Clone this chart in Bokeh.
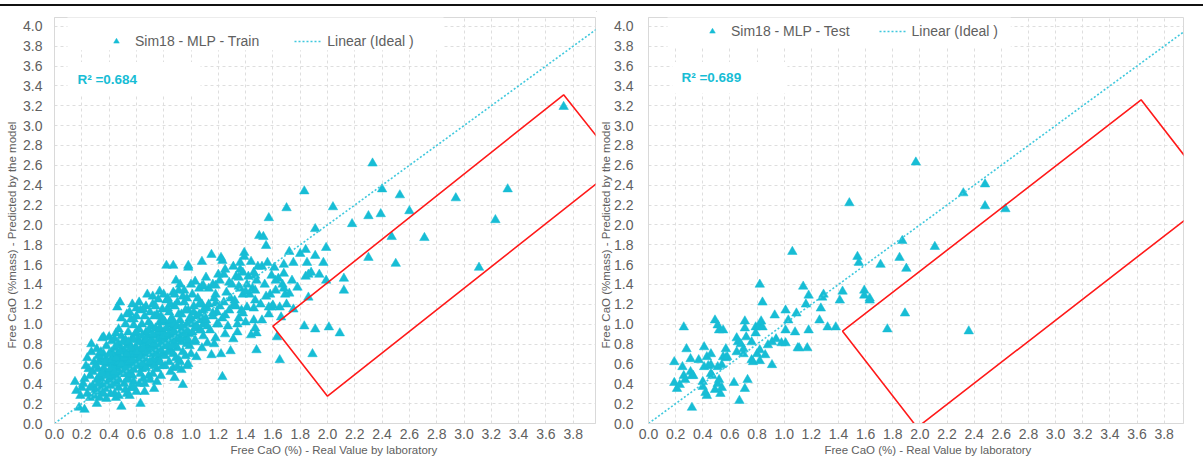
from bokeh.plotting import figure
from bokeh.models import (Range1d, FixedTicker, PrintfTickFormatter, Legend,
                          LegendItem, Label, BoxAnnotation, Title, Div)
from bokeh.layouts import row, column
from bokeh.embed import file_html
from bokeh.resources import INLINE

# ---------------- data ----------------
train_pts = [
    (0.15, 0.42), (0.16, 0.33), (0.18, 0.16), (0.22, 0.14), (0.20, 0.36), (0.19, 0.28),
    (0.24, 0.66), (0.27, 0.80), (0.25, 0.55), (0.22, 0.45), (0.26, 0.48), (0.28, 0.38),
    (0.24, 0.30), (0.29, 0.62), (0.27, 0.72), (0.23, 0.58), (0.21, 0.40), (0.28, 0.52),
    (0.30, 0.34), (0.26, 0.26),
    (0.31, 0.75), (0.31, 0.20), (0.35, 0.86), (0.33, 0.62), (0.34, 0.45), (0.32, 0.55),
    (0.36, 0.70), (0.38, 0.25), (0.37, 0.50), (0.39, 0.60), (0.35, 0.38), (0.33, 0.32),
    (0.38, 0.78), (0.36, 0.87), (0.34, 0.66), (0.31, 0.44), (0.39, 0.42), (0.37, 0.35),
    (0.32, 0.68), (0.40, 0.87), (0.40, 0.52), (0.36, 0.56), (0.33, 0.48), (0.38, 0.65),
    (0.45, 0.91), (0.48, 1.22), (0.46, 1.17), (0.49, 0.17), (0.42, 0.72), (0.44, 0.60),
    (0.43, 0.48), (0.47, 0.80), (0.41, 0.38), (0.46, 0.55), (0.48, 0.66), (0.44, 0.30),
    (0.49, 1.06), (0.47, 0.95), (0.42, 0.83), (0.45, 0.42), (0.43, 0.58), (0.46, 0.70),
    (0.48, 0.50), (0.41, 0.62), (0.49, 0.88), (0.44, 0.76), (0.47, 0.36), (0.45, 0.26),
    (0.42, 0.52), (0.48, 0.58), (0.43, 0.68), (0.46, 0.46), (0.44, 0.85), (0.49, 0.74),
    (0.41, 0.45), (0.47, 0.62),
    (0.58, 0.99), (0.52, 0.84), (0.55, 0.70), (0.53, 0.58), (0.57, 0.48), (0.51, 0.40),
    (0.56, 0.62), (0.54, 0.92), (0.59, 0.76), (0.52, 0.66), (0.55, 0.52), (0.58, 0.42),
    (0.53, 0.30), (0.57, 0.86), (0.51, 0.73), (0.56, 1.05), (0.54, 0.45), (0.59, 0.60),
    (0.52, 0.50), (0.55, 0.80), (0.58, 0.68), (0.53, 0.78), (0.57, 0.56), (0.51, 0.60),
    (0.56, 0.36), (0.54, 0.64), (0.59, 0.90), (0.52, 1.00), (0.55, 0.58), (0.57, 0.72),
    (0.63, 0.20), (0.63, 1.14), (0.68, 1.30), (0.66, 1.08), (0.62, 0.95), (0.65, 0.82),
    (0.67, 0.70), (0.61, 0.62), (0.64, 0.55), (0.69, 0.48), (0.62, 0.40), (0.66, 0.32),
    (0.68, 0.88), (0.63, 0.75), (0.65, 0.65), (0.69, 0.60), (0.61, 0.85), (0.64, 1.00),
    (0.67, 0.92), (0.62, 0.70), (0.66, 0.58), (0.68, 0.78), (0.63, 0.50), (0.65, 0.45),
    (0.60, 0.76), (0.67, 1.18), (0.69, 1.02), (0.64, 0.68), (0.66, 0.74),
    (0.77, 1.33), (0.72, 1.20), (0.75, 1.10), (0.71, 0.98), (0.74, 0.88), (0.78, 0.80),
    (0.73, 0.72), (0.76, 0.66), (0.79, 0.58), (0.72, 0.50), (0.75, 0.42), (0.78, 0.94),
    (0.71, 0.84), (0.74, 0.62), (0.77, 1.02), (0.73, 1.08), (0.76, 0.76), (0.79, 0.70),
    (0.72, 0.64), (0.75, 0.55), (0.78, 0.48), (0.70, 0.70), (0.77, 0.86), (0.74, 0.78),
    (0.79, 1.15), (0.73, 0.35), (0.76, 0.92), (0.71, 0.60),
    (0.82, 1.59), (0.87, 1.59), (0.88, 0.46), (0.89, 1.44), (0.82, 1.24), (0.87, 1.32),
    (0.84, 1.12), (0.81, 1.02), (0.86, 0.96), (0.83, 0.88), (0.88, 0.80), (0.85, 0.74),
    (0.81, 0.68), (0.84, 0.62), (0.87, 0.56), (0.89, 0.90), (0.82, 0.82), (0.86, 1.06),
    (0.88, 1.18), (0.83, 0.72), (0.85, 0.52), (0.80, 0.92), (0.87, 0.70), (0.84, 1.00),
    (0.89, 0.66), (0.81, 0.58), (0.86, 0.84), (0.83, 1.16),
    (0.94, 0.39), (0.98, 1.59), (0.91, 1.34), (0.95, 1.22), (0.93, 1.10), (0.97, 1.00),
    (0.92, 0.92), (0.96, 0.86), (0.99, 0.78), (0.94, 0.72), (0.91, 0.64), (0.97, 0.58),
    (0.93, 0.82), (0.98, 1.14), (0.95, 0.96), (0.92, 1.04), (0.99, 0.90), (0.96, 0.68),
    (0.90, 0.76), (0.94, 1.28), (0.97, 0.80), (0.93, 0.54), (0.99, 1.06),
    (1.03, 1.43), (1.04, 0.67), (1.08, 1.63), (1.01, 1.30), (1.06, 1.20), (1.02, 1.12),
    (1.07, 1.04), (1.05, 0.96), (1.09, 0.88), (1.03, 0.82), (1.08, 0.76), (1.01, 0.92),
    (1.06, 1.36), (1.04, 1.08), (1.09, 1.14), (1.02, 1.00), (1.07, 0.94), (1.05, 1.26),
    (1.00, 0.70), (1.09, 1.00),
    (1.15, 1.70), (1.11, 1.47), (1.15, 0.69), (1.13, 1.36), (1.17, 1.26), (1.12, 1.16),
    (1.16, 1.08), (1.19, 1.00), (1.14, 0.94), (1.18, 0.86), (1.11, 1.04), (1.16, 1.40),
    (1.13, 1.20), (1.19, 1.12), (1.17, 0.80), (1.12, 0.98), (1.18, 1.30),
    (1.22, 1.67), (1.25, 1.55), (1.22, 0.70), (1.23, 0.47), (1.29, 0.73), (1.21, 1.44),
    (1.26, 1.32), (1.24, 1.22), (1.28, 1.14), (1.23, 1.06), (1.27, 0.98), (1.21, 1.18),
    (1.29, 1.26), (1.25, 0.90), (1.28, 1.42), (1.24, 1.50), (1.20, 1.00),
    (1.31, 0.85), (1.34, 0.92), (1.34, 1.00), (1.39, 1.72), (1.39, 1.68), (1.33, 1.48),
    (1.36, 1.36), (1.32, 1.24), (1.37, 1.14), (1.35, 1.06), (1.38, 1.30), (1.31, 1.58),
    (1.36, 1.62), (1.33, 1.18), (1.38, 1.52), (1.30, 1.40),
    (1.40, 1.02), (1.41, 1.17), (1.46, 1.04), (1.44, 0.89), (1.48, 0.91), (1.48, 0.74),
    (1.44, 1.63), (1.50, 1.89), (1.42, 1.48), (1.45, 1.36), (1.47, 1.24), (1.43, 1.30),
    (1.49, 1.58), (1.46, 1.52), (1.41, 1.40), (1.48, 1.44),
    (1.52, 1.04), (1.57, 1.10), (1.53, 1.88), (1.55, 1.79), (1.57, 2.07), (1.52, 1.58),
    (1.59, 1.49), (1.54, 1.40), (1.58, 1.30), (1.51, 1.20), (1.56, 1.62), (1.59, 1.17),
    (1.55, 1.28),
    (1.60, 1.19), (1.65, 1.17), (1.66, 1.07), (1.63, 0.87), (1.65, 0.64), (1.61, 1.57),
    (1.68, 1.60), (1.70, 2.17), (1.70, 1.20), (1.64, 1.46), (1.62, 1.34), (1.67, 1.40),
    (1.69, 1.30),
    (1.72, 1.73), (1.75, 1.62), (1.75, 1.15), (1.74, 1.44), (1.78, 1.37),
    (1.80, 1.71), (1.84, 1.75), (1.83, 2.34), (1.85, 1.62), (1.86, 1.27), (1.83, 0.98),
    (1.91, 0.95), (1.89, 0.70), (1.91, 1.96), (1.91, 1.69), (1.94, 1.50), (1.97, 1.62),
    (1.99, 1.77), (1.99, 1.44), (1.88, 1.52),
    (2.01, 0.97), (2.09, 0.91), (2.04, 2.18), (2.12, 1.46), (2.12, 1.34), (2.18, 2.01),
    (2.30, 2.09), (2.33, 2.62), (2.39, 2.11), (2.40, 2.36), (2.53, 2.30), (2.60, 2.14),
    (2.30, 1.67), (2.47, 1.88), (2.50, 1.61), (2.71, 1.87), (2.94, 2.27), (3.11, 1.57),
    (3.23, 2.05), (3.32, 2.36), (3.73, 3.19),
    (1.23, 1.64), (0.98, 1.57), (1.36, 1.55), (1.20, 1.50), (1.35, 1.47), (1.47, 1.49),
    (1.18, 1.39), (1.08, 1.38), (1.62, 1.44), (1.57, 1.17), (1.46, 1.16), (1.38, 1.11),
    (1.31, 1.19), (1.25, 1.09), (1.18, 1.21), (1.09, 1.39), (1.35, 1.38), (1.40, 1.33),
    (1.47, 1.34), (1.68, 1.36), (1.72, 1.31), (1.84, 1.48), (1.68, 1.51), (1.86, 1.50),
    (0.92, 0.62), (0.98, 0.60), (0.90, 0.57), (1.03, 0.84), (1.12, 0.81), (1.07, 0.94),
    (1.47, 0.96), (1.16, 1.11), (1.00, 1.06),
    (0.30, 0.58), (0.32, 0.40), (0.34, 0.72), (0.35, 0.50), (0.37, 0.62), (0.39, 0.48),
    (0.40, 0.70), (0.41, 0.55), (0.42, 0.64), (0.43, 0.40), (0.44, 0.52), (0.45, 0.66),
    (0.46, 0.78), (0.47, 0.44), (0.48, 0.72), (0.49, 0.60), (0.50, 0.50), (0.50, 0.82),
    (0.51, 0.66), (0.52, 0.56), (0.53, 0.70), (0.53, 0.44), (0.54, 0.82), (0.55, 0.62),
    (0.56, 0.50), (0.56, 0.76), (0.57, 0.64), (0.58, 0.54), (0.58, 0.84), (0.59, 0.70),
    (0.60, 0.60), (0.60, 0.92), (0.61, 0.72), (0.62, 0.58), (0.62, 0.82), (0.63, 0.66),
    (0.64, 0.88), (0.64, 0.60), (0.65, 0.76), (0.66, 0.66), (0.67, 0.84), (0.67, 0.56),
    (0.68, 0.72), (0.69, 0.94), (0.70, 0.82), (0.70, 0.62), (0.71, 0.76), (0.72, 0.90),
    (0.73, 0.80), (0.73, 0.58), (0.74, 0.96), (0.75, 0.70), (0.76, 0.84), (0.77, 0.62),
    (0.77, 0.96), (0.78, 0.74), (0.79, 0.86), (0.80, 0.78), (0.80, 1.04), (0.81, 0.88),
    (0.82, 0.96), (0.83, 0.78), (0.84, 0.90), (0.85, 1.04), (0.86, 0.78), (0.87, 0.92),
    (0.88, 1.00), (0.89, 0.84), (0.90, 0.98), (0.91, 1.10), (0.92, 0.86), (0.93, 0.98),
    (0.95, 0.90), (0.96, 1.14), (0.97, 0.94), (0.98, 0.84), (1.00, 1.02), (1.02, 1.18),
    (1.04, 0.98), (1.06, 1.10), (1.08, 1.20), (1.10, 1.08),
    (0.55, 1.12), (0.60, 1.08), (0.62, 1.22), (0.65, 1.15), (0.70, 1.12), (0.72, 1.28),
    (0.74, 1.18), (0.76, 1.25), (0.78, 1.08), (0.80, 1.30), (0.83, 1.26), (0.85, 1.20),
    (0.88, 1.30), (0.90, 1.22), (0.92, 1.40), (0.95, 1.34), (0.97, 1.26), (1.00, 1.40),
    (0.60, 1.16), (0.58, 1.05), (0.53, 1.10), (0.57, 1.20),
    (0.41, 0.30), (0.47, 0.28), (0.52, 0.34), (0.55, 0.28), (0.58, 0.36), (0.60, 0.32),
    (0.66, 0.40), (0.70, 0.44), (0.36, 0.30), (0.29, 0.28), (0.26, 0.36), (0.33, 0.26),
]

test_pts = [
    (0.19, 0.62), (0.19, 0.41), (0.21, 0.35), (0.23, 0.39), (0.26, 0.97), (0.25, 0.57),
    (0.26, 0.48), (0.27, 0.44), (0.28, 0.75), (0.31, 0.65), (0.31, 0.52), (0.32, 0.48),
    (0.33, 0.48), (0.32, 0.16), (0.37, 0.64), (0.40, 0.42), (0.40, 0.37), (0.41, 0.77),
    (0.41, 0.57), (0.42, 0.31), (0.43, 0.28), (0.43, 0.67), (0.44, 0.58), (0.46, 0.70),
    (0.46, 0.50), (0.46, 0.59), (0.47, 0.48), (0.49, 1.04), (0.49, 0.34), (0.51, 0.40),
    (0.51, 0.99), (0.52, 0.94), (0.51, 0.57), (0.52, 0.44), (0.53, 0.30), (0.54, 0.36),
    (0.54, 0.59), (0.55, 0.67), (0.55, 0.94), (0.57, 0.75), (0.57, 0.66), (0.58, 0.67),
    (0.63, 0.41), (0.65, 0.86), (0.66, 0.82), (0.65, 0.72), (0.67, 0.23), (0.68, 0.80),
    (0.70, 0.70), (0.70, 0.75), (0.71, 1.03), (0.71, 0.96), (0.72, 0.87), (0.71, 0.35),
    (0.73, 0.44), (0.76, 0.82), (0.76, 0.64), (0.77, 0.62), (0.79, 0.97), (0.79, 0.91),
    (0.80, 0.70), (0.82, 0.63), (0.82, 0.74), (0.82, 0.99), (0.83, 1.03), (0.84, 0.97),
    (0.84, 1.22), (0.86, 0.69), (0.88, 0.79), (0.91, 0.59), (0.91, 0.82), (0.93, 1.09),
    (0.94, 0.85), (0.98, 0.81), (1.01, 0.81), (1.01, 1.14), (1.01, 0.94), (1.03, 1.04),
    (1.08, 0.92), (1.09, 1.11), (1.10, 0.76),
    (1.16, 1.20), (1.18, 0.94), (1.11, 0.76), (1.17, 0.76), (1.26, 1.04), (1.27, 1.16),
    (1.32, 0.97), (1.38, 0.97), (1.41, 1.24), (1.63, 1.24), (1.76, 0.95), (1.89, 1.11),
    (2.36, 0.93),
    (1.97, 2.63), (1.48, 2.22), (2.32, 2.32), (2.48, 2.41), (2.48, 2.19), (2.63, 2.16),
    (1.87, 1.84), (2.11, 1.78), (1.54, 1.68), (1.55, 1.62), (1.71, 1.60), (1.85, 1.67),
    (1.90, 1.56), (1.14, 1.38), (1.18, 1.29), (1.29, 1.30), (1.28, 1.27), (1.43, 1.33),
    (1.59, 1.34), (1.59, 1.29), (1.63, 1.26),
    (0.82, 1.40), (1.06, 1.73),
]

train_x = [p[0] for p in train_pts]
train_y = [p[1] for p in train_pts]
test_x = [p[0] for p in test_pts]
test_y = [p[1] for p in test_pts]

ideal_x = [0.0, 4.1]
ideal_y = [0.0, 4.1]

tick_values = [0.0, 0.2, 0.4, 0.6, 0.8, 1.0, 1.2, 1.4, 1.6, 1.8, 2.0,
               2.2, 2.4, 2.6, 2.8, 3.0, 3.2, 3.4, 3.6, 3.8, 4.0]

# red highlight boxes (data coordinates)
red_train_x = [1.60, 2.00, 4.14, 3.73]
red_train_y = [0.98, 0.275, 2.60, 3.31]
red_test_x = [1.43, 1.98, 4.18, 3.63]
red_test_y = [0.93, -0.04, 2.29, 3.26]

series_names = ["Sim18 - MLP - Train", "Sim18 - MLP - Test"]
r2_texts = ["R\u00b2 =0.684", "R\u00b2 =0.689"]
x_title = "Free CaO (%) - Real Value by laboratory"
y_title = "Free CaO (%mass) - Predicted by the model"

# ---------------- style ----------------
CYAN = "#17BDD5"
LINE_CYAN = "#3FC8DD"
GRAY_TXT = "#606060"
GRID = "#dedede"
FONT = "Liberation Sans"
FIG_H = 449          # below a 10px header strip
TOP = 7              # frame top at y = 17
FRAME_H = 406


def panel(xs, ys, name, r2, width, bl, br, px_per_unit, red_x, red_y,
          leg_loc, leg_spacing, r2_xy, box_r2, box_leg, ylab_standoff,
          ytitle_valign, ytitle_standoff):
    frame_w = width - bl - br
    x_end = frame_w / px_per_unit
    y_end = FRAME_H / 99.3
    p = figure(width=width, height=FIG_H, x_range=Range1d(0, x_end),
               y_range=Range1d(0, y_end), output_backend="svg",
               toolbar_location=None, min_border_left=bl, min_border_right=br,
               min_border_top=TOP, min_border_bottom=FIG_H - TOP - FRAME_H)
    p.background_fill_color = "white"
    p.border_fill_color = "white"
    p.outline_line_color = "#d9d9d9"
    for ax in (p.xaxis[0], p.yaxis[0]):
        ax.ticker = FixedTicker(ticks=tick_values)
        ax.formatter = PrintfTickFormatter(format="%.1f")
        ax.axis_line_color = "#d9d9d9"
        ax.major_tick_line_color = None
        ax.minor_tick_line_color = None
        ax.major_tick_out = 0
        ax.major_tick_in = 0
        ax.minor_tick_out = 0
        ax.minor_tick_in = 0
        ax.major_label_text_font = FONT
        ax.major_label_text_font_size = "14px"
        ax.major_label_text_color = GRAY_TXT
    p.xaxis.major_label_standoff = 5
    p.yaxis.major_label_standoff = ylab_standoff
    for g in (p.xgrid[0], p.ygrid[0]):
        g.grid_line_color = GRID
        g.grid_line_dash = "3 3"
        g.grid_line_width = 1

    # white boxes behind legend and R2 text
    for (l, r, b, t) in (box_r2, box_leg):
        p.add_layout(BoxAnnotation(left=l, right=r, bottom=b, top=t,
                                   fill_color="white", fill_alpha=1.0,
                                   line_color=None, level="underlay"))

    sc = p.scatter(xs, ys, marker="triangle", size=9.5, fill_color=CYAN,
                   line_color=CYAN, line_width=0.5)
    ln = p.line(ideal_x, ideal_y, line_color=LINE_CYAN, line_width=1.6,
                line_dash="2 2")
    p.patch(red_x, red_y, fill_color=None, line_color="#ff1a1a", line_width=1.6)

    legend = Legend(items=[LegendItem(label=name, renderers=[sc]),
                           LegendItem(label="Linear (Ideal )", renderers=[ln])],
                    orientation="horizontal", location=leg_loc,
                    padding=0, margin=0, spacing=leg_spacing,
                    glyph_width=28, glyph_height=14, label_height=14,
                    label_standoff=5, label_text_font=FONT,
                    label_text_font_size="14px", label_text_color=GRAY_TXT,
                    background_fill_alpha=0, border_line_color=None)
    p.add_layout(legend)

    p.add_layout(Label(x=r2_xy[0], y=r2_xy[1], text=r2, text_font=FONT,
                       text_font_size="13.5px", text_font_style="bold",
                       text_color=CYAN, text_baseline="middle"))

    p.add_layout(Title(text=x_title, align="left", offset=176,
                       vertical_align="bottom", standoff=0,
                       text_font=FONT, text_font_size="11.5px",
                       text_font_style="normal", text_color=GRAY_TXT), "below")
    p.add_layout(Title(text=y_title, align="left", offset=75,
                       vertical_align=ytitle_valign, standoff=ytitle_standoff,
                       text_font=FONT, text_font_size="11.5px",
                       text_font_style="normal", text_color=GRAY_TXT), "left")
    return p


left = panel(train_x, train_y, series_names[0], r2_texts[0], 596, 54, 1, 136.5,
             red_train_x, red_train_y, (48, 374), 35, (0.168, 3.467),
             (0.095, 1.07, 3.306, 3.64), (0.095, 2.85, 3.76, 4.2), 12, "top", 2)
right = panel(test_x, test_y, series_names[1], r2_texts[1], 607, 52, 20, 135.7,
              red_test_x, red_test_y, (50, 384), 29, (0.243, 3.487),
              (0.177, 1.024, 3.326, 3.64), (0.14, 2.67, 3.79, 4.2), 15, "bottom", 0)

header = Div(text=('<div style="position:relative;width:1203px;height:10px;">'
                   '<div style="position:absolute;left:0px;top:2px;width:1203px;'
                   'height:2px;background:#111111;"></div>'
                   '<div style="position:absolute;left:3px;top:9px;width:1200px;'
                   'height:1px;background:#d6d6d6;"></div></div>'),
             width=1203, height=10, margin=0)

layout = column(header, row(left, right))
open("out.html", "w").write(file_html(layout, INLINE))
